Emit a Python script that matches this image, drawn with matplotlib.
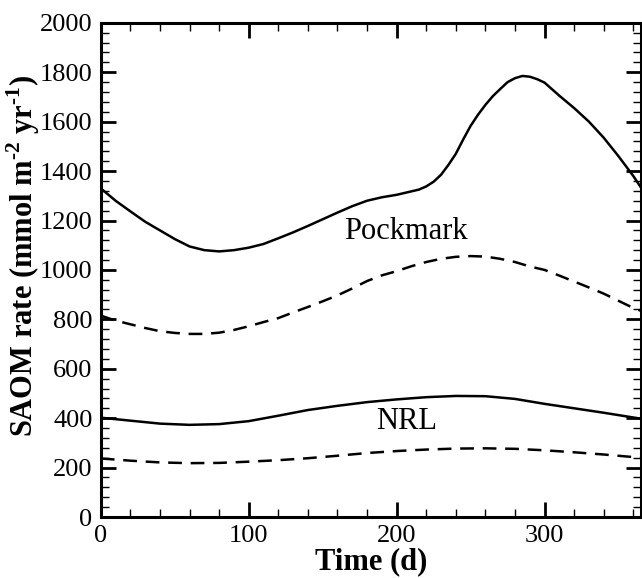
import numpy as np
import matplotlib.pyplot as plt
from matplotlib.ticker import MultipleLocator

plt.rcParams['font.family'] = 'Liberation Serif'
plt.rcParams['mathtext.fontset'] = 'custom'
plt.rcParams['mathtext.rm'] = 'Liberation Serif'
plt.rcParams['mathtext.bf'] = 'Liberation Serif:bold'

# Pockmark, solid
pock_t = [0, 10, 20, 30, 40, 50, 60, 70, 80, 90, 100, 110, 120, 130, 140, 150,
          160, 170, 180, 190, 200, 210, 215, 220, 225, 230, 235, 240, 245, 250,
          255, 260, 265, 270, 275, 280, 285, 290, 295, 300, 310, 320, 330, 340,
          350, 360, 365]
pock_solid = [1330, 1280, 1237, 1195, 1160, 1125, 1095, 1080, 1075, 1080, 1090,
              1105, 1128, 1152, 1178, 1205, 1232, 1258, 1280, 1294, 1304, 1318,
              1325, 1338, 1357, 1385, 1425, 1470, 1528, 1583, 1628, 1668, 1703,
              1732, 1760, 1776, 1785, 1782, 1772, 1758, 1705, 1655, 1600, 1535,
              1460, 1380, 1335]

# Pockmark, dashed
pockd_t = [0, 10, 20, 30, 40, 50, 60, 70, 80, 90, 100, 110, 120, 130, 140, 150,
           160, 170, 180, 190, 200, 210, 220, 230, 240, 250, 260, 270, 280, 290,
           300, 310, 320, 330, 340, 350, 360, 365]
pock_dash = [815, 795, 780, 765, 752, 745, 741, 741, 746, 757, 772, 789, 805,
             828, 850, 873, 897, 925, 955, 978, 995, 1015, 1032, 1045, 1053,
             1056, 1054, 1045, 1032, 1014, 1000, 977, 953, 929, 904, 875, 846,
             835]

# NRL
nrl_t = [0, 20, 40, 60, 80, 100, 120, 140, 160, 180, 200, 220, 240, 260, 280,
         300, 320, 340, 365]
nrl_solid = [402, 390, 378, 373, 376, 388, 410, 433, 450, 465, 476, 485, 490,
             489, 478, 458, 440, 422, 398]
nrl_dash = [237, 228, 221, 218, 219, 224, 230, 238, 248, 259, 267, 273, 277,
            278, 276, 270, 262, 253, 240]

fig = plt.figure(figsize=(6.42, 5.78), dpi=100)
ax = fig.add_axes([0.157, 0.1055, 0.841, 0.855])

lw = 1.8
ax.plot(pock_t, pock_solid, 'k-', lw=lw)
ax.plot(pockd_t, pock_dash, 'k--', lw=lw, dashes=(5.5, 3.5))
ax.plot(nrl_t, nrl_solid, 'k-', lw=lw)
ax.plot(nrl_t, nrl_dash, 'k--', lw=lw, dashes=(5.5, 3.5))

ax.text(206, 1154, 'Pockmark', fontsize=22, ha='center', va='center')
ax.text(207, 385, 'NRL', fontsize=22, ha='center', va='center')

ax.set_xlim(0, 365)
ax.set_ylim(0, 2000)
ax.xaxis.set_major_locator(MultipleLocator(100))
ax.xaxis.set_minor_locator(MultipleLocator(20))
ax.yaxis.set_major_locator(MultipleLocator(200))
ax.yaxis.set_minor_locator(MultipleLocator(40))

ax.tick_params(which='both', direction='in', top=True, right=True,
               labelsize=19, pad=6)
ax.tick_params(which='major', length=11, width=2)
ax.tick_params(which='minor', length=6, width=1)
for s in ax.spines.values():
    s.set_linewidth(2.2)

ax.set_xlabel('Time (d)', fontsize=22, fontweight='bold', labelpad=0)
ax.set_ylabel('SAOM rate (mmol m$^{\\mathbf{\u2010}\\mathbf{2}}$ yr$^{\\mathbf{\u2010}\\mathbf{1}}$)',
              fontsize=22, fontweight='bold')
ax.yaxis.set_label_coords(-0.108, 0.528)

fig.savefig('out.png', dpi=100)
